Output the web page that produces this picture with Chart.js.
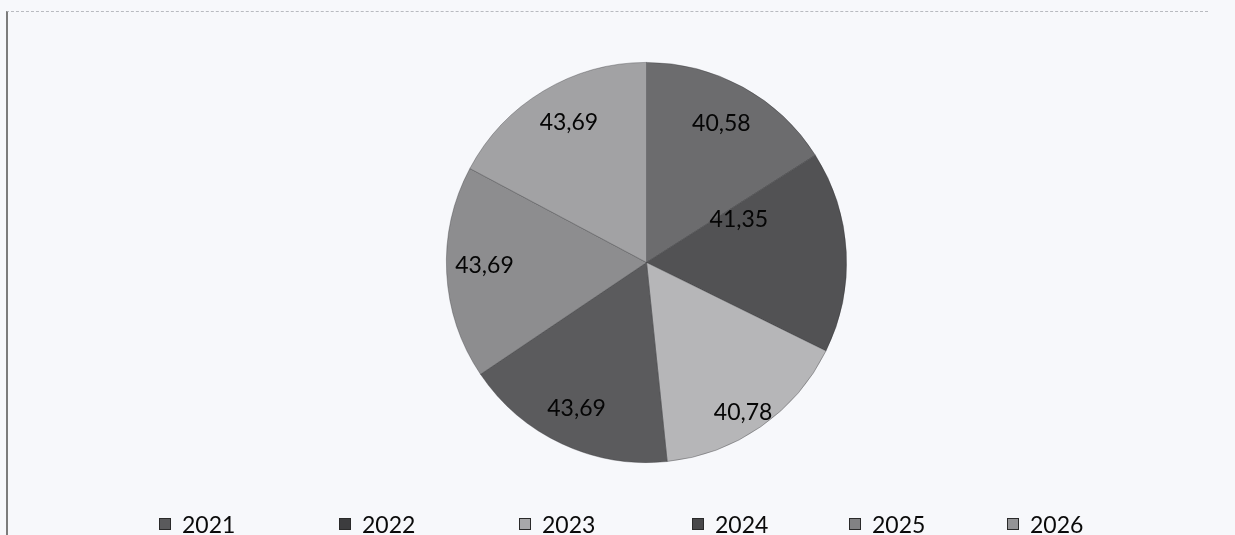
<!DOCTYPE html>
<html>
<head>
<meta charset="utf-8">
<script src="https://cdn.jsdelivr.net/npm/chart.js@4/dist/chart.umd.min.js"></script>
<style>
  html, body { margin: 0; padding: 0; background: #f7f8fb; }
  #wrap { position: relative; width: 1235px; height: 535px; overflow: hidden; background: #f7f8fb; }
  #frame { position: absolute; left: 6px; top: 11px; width: 1200px; height: 540px;
           border-left: 2px solid #7c7c7c; border-top: 1px dashed #b9bbc0; }
  #c { position: absolute; left: 0; top: 0; }
  .leg { position: absolute; top: 510px; display: flex; align-items: center;
         font-family: Lato, "Open Sans", sans-serif; font-size: 23px; color: #0a0a0a; }
  .leg span.box { display: inline-block; width: 10px; height: 10px; border: 1px solid #2a2a2a;
                  margin-right: 11px; }
</style>
</head>
<body>
<div id="wrap">
  <div id="frame"></div>
  <canvas id="c" width="1235" height="535"></canvas>
  <div id="legend"></div>
</div>
<script>
const categories = ["2021", "2022", "2023", "2024", "2025", "2026"];
const values = [40.58, 41.35, 40.78, 43.69, 43.69, 43.69];
const sliceColors = ["#6c6c6e", "#525254", "#b6b6b8", "#5b5b5d", "#8d8d8f", "#a2a2a4"];
const legendBoxColors = ["#5a5a5c", "#3c3c3e", "#a8a8aa", "#48484a", "#828284", "#949496"];

// per-slice label placement tweaks (fraction of radius, angle shift in degrees)
const labelFrac = [0.79, 0.51, 0.89, 0.81, 0.81, 0.80];
const labelShift = [-0.5, -22, 2, 0.5, 1.7, 2];

const labelPlugin = {
  id: 'sliceLabels',
  afterDatasetsDraw(chart) {
    const ctx = chart.ctx;
    const meta = chart.getDatasetMeta(0);
    ctx.save();
    ctx.font = '23px Lato, "Open Sans", sans-serif';
    ctx.fillStyle = '#050505';
    ctx.textAlign = 'center';
    ctx.textBaseline = 'middle';
    meta.data.forEach((arc, i) => {
      const p = arc.getProps(['x', 'y', 'startAngle', 'endAngle', 'outerRadius'], true);
      const mid = (p.startAngle + p.endAngle) / 2 + labelShift[i] * Math.PI / 180;
      const r = p.outerRadius * labelFrac[i];
      const txt = values[i].toFixed(2).replace('.', ',');
      ctx.fillText(txt, p.x + Math.cos(mid) * r, p.y + Math.sin(mid) * r);
    });
    ctx.restore();
  }
};

new Chart(document.getElementById('c'), {
  type: 'pie',
  data: {
    labels: categories,
    datasets: [{
      data: values,
      backgroundColor: sliceColors,
      borderColor: 'rgba(50,50,53,0.45)',
      borderWidth: 0.8
    }]
  },
  options: {
    responsive: false,
    animation: false,
    layout: { padding: { left: 446, right: 388, top: 62, bottom: 72 } },
    plugins: {
      legend: { display: false },
      tooltip: { enabled: false }
    }
  },
  plugins: [labelPlugin]
});

// HTML legend built from the category list
const legendLefts = [159, 339, 519, 692, 849, 1007];
const legendEl = document.getElementById('legend');
categories.forEach((cat, i) => {
  const d = document.createElement('div');
  d.className = 'leg';
  d.style.left = legendLefts[i] + 'px';
  const b = document.createElement('span');
  b.className = 'box';
  b.style.background = legendBoxColors[i];
  d.appendChild(b);
  d.appendChild(document.createTextNode(cat));
  legendEl.appendChild(d);
});
</script>
</body>
</html>
